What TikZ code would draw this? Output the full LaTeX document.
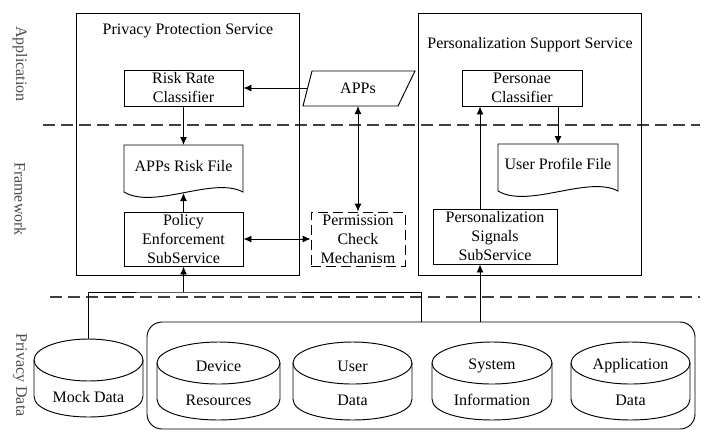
\documentclass[tikz,border=0pt]{standalone}
\usepackage{fontspec}
\setmainfont{Liberation Serif}
\usetikzlibrary{arrows.meta}
\newcommand{\mycyl}[6]{% name, cx, half width, top-ellipse centre y, line1, line2
  \draw[ln] (#2-#3,#4) -- (#2-#3,#4+36) .. controls (#2-#3,#4+64) and (#2+#3,#4+64) .. (#2+#3,#4+36) -- (#2+#3,#4);
  \draw[ln] (#2,#4) ellipse [x radius=#3, y radius=21];
  \node[minimum width=2*#3 pt, minimum height=78pt] (#1) at (#2,#4+18) {};
  \node (#1a) at (#2,#4+3) {#5};
  \node (#1b) at (#2,#4+37) {#6};
}
\begin{document}
\begin{tikzpicture}[x=1pt,y=-1pt,
 every node/.style={font=\fontsize{16}{19}\selectfont, align=center, inner sep=0pt},
 box/.style={draw, line width=0.95pt},
 ln/.style={line width=0.95pt},
 arr/.style={line width=0.95pt, -{Latex[length=8pt,width=7pt]}},
 darr/.style={line width=0.95pt, {Latex[length=8pt,width=7pt]}-{Latex[length=8pt,width=7pt]}},
 sep/.style={line width=1.2pt, dash pattern=on 12pt off 6pt, black!75},
 lab/.style={rotate=-90, text=black!70}]
\useasboundingbox (0,0) rectangle (711,440);

% layer labels
\node[lab] (lapp) at (20,64) {Application};
\node[lab] (lfw) at (20,199) {Framework};
\node[lab] (lpd) at (20,375) {Privacy Data};

% separators
\coordinate (s1a) at (43,125); \coordinate (s1b) at (700,125);
\coordinate (s2a) at (50,297); \coordinate (s2b) at (700,297);
\draw[sep] (s1a) -- (s1b);
\draw[sep] (s2a) -- (s2b);

% service boxes
\node[box, minimum width=223pt, minimum height=262pt] (pps) at (187.5,144) {};
\node (ppst) at (188,31) {Privacy Protection Service};
\node[box, minimum width=223pt, minimum height=262pt] (pss0) at (529.5,144) {};
\node (psst) at (530,45) {Personalization Support Service};

% left service
\node[box, minimum width=119pt, minimum height=36pt] (rr) at (183.5,88) {Risk Rate\\Classifier};
\draw[ln] (124,145) -- (243,145) -- (243,192) .. controls (213,176) and (154,210) .. (124,192) -- cycle;
\node (rf) at (183.5,166) {APPs Risk File};
\coordinate (rftop) at (183.5,145);
\coordinate (rfbot) at (183.5,193);
\node[box, minimum width=119pt, minimum height=54pt] (pe) at (183.5,239) {Policy\\Enforcement\\SubService};

% APPs
\draw[ln] (312,71) -- (415,71) -- (398,106) -- (303,106) -- cycle;
\node (apps) at (358,88.5) {APPs};
\coordinate (appsL) at (307.5,88);
\coordinate (appsB) at (358,106);

% permission check
\node[draw, line width=0.95pt, dash pattern=on 10pt off 5pt, minimum width=94pt, minimum height=54pt] (pcm) at (358,239) {Permission\\Check\\Mechanism};

% right service
\node[box, minimum width=120pt, minimum height=36pt] (pc) at (522,88) {Personae\\Classifier};
\draw[ln] (498,144) -- (618,144) -- (618,191) .. controls (588,175) and (528,209) .. (498,191) -- cycle;
\node (upf) at (558,164) {User Profile File};
\coordinate (upftop) at (558,144);
\node[box, minimum width=124pt, minimum height=55pt] (pss) at (495,236.5) {Personalization\\Signals\\SubService};

% data store
\node[draw, line width=0.95pt, rounded corners=15pt, minimum width=548pt, minimum height=107pt] (store) at (421,375.5) {};
\mycyl{mock}{88.5}{54.5}{360}{}{Mock Data}
\mycyl{dev}{218.5}{61.5}{363}{Device}{Resources}
\mycyl{usr}{352.5}{59.5}{363}{User}{Data}
\mycyl{sys}{492}{60}{363}{System}{Information}
\mycyl{appd}{630.5}{59.5}{363}{Application}{Data}

% connectors
\coordinate (bus) at (183.5,292);
\coordinate (x480) at (480,0);
\coordinate (x558) at (558,0);
\draw[arr] (appsL) -- (rr.east |- appsL);
\draw[arr] (rr.south) -- (rftop);
\draw[arr] (pe.north) -- (rfbot);
\draw[darr] (appsB) -- (pcm.north);
\draw[darr] (pe.east) -- (pcm.west);
\draw[ln] (mock.north) |- (bus) -| (store.north);
\draw[arr] (bus) -- (pe.south);
\draw[arr] (store.north -| x480) -- (pss.south -| x480);
\draw[arr] (pss.north -| x480) -- (pc.south -| x480);
\draw[arr] (pc.south -| x558) -- (upftop);
\end{tikzpicture}
\end{document}
